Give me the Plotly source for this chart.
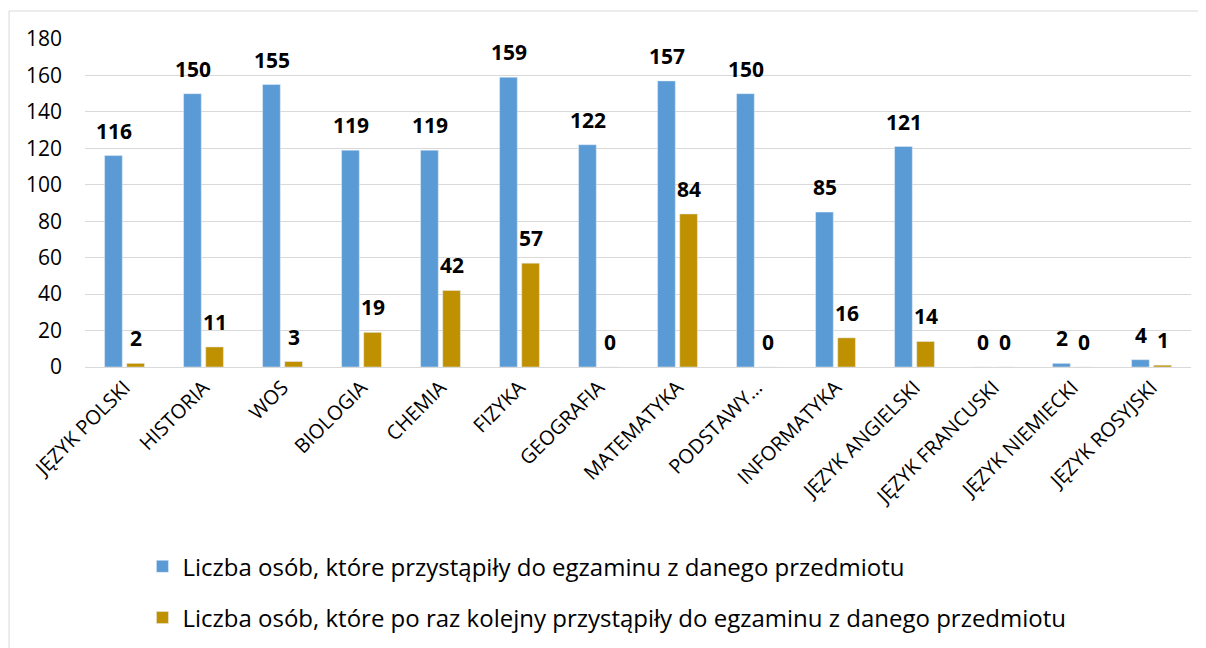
import plotly.graph_objects as go

categories = ["JĘZYK POLSKI", "HISTORIA", "WOS", "BIOLOGIA", "CHEMIA", "FIZYKA",
              "GEOGRAFIA", "MATEMATYKA", "PODSTAWY…", "INFORMATYKA",
              "JĘZYK ANGIELSKI", "JĘZYK FRANCUSKI", "JĘZYK NIEMIECKI", "JĘZYK ROSYJSKI"]
series1_name = "Liczba osób, które przystąpiły do egzaminu z danego przedmiotu"
series2_name = "Liczba osób, które po raz kolejny przystąpiły do egzaminu z danego przedmiotu"
series1 = [116, 150, 155, 119, 119, 159, 122, 157, 150, 85, 121, 0, 2, 4]
series2 = [2, 11, 3, 19, 42, 57, 0, 84, 0, 16, 14, 0, 0, 1]
y_ticks = [0, 20, 40, 60, 80, 100, 120, 140, 160, 180]

BLUE = "#5B9BD5"
GOLD = "#BF9000"
FONT = "Open Sans"

fig = go.Figure()
fig.add_trace(go.Bar(x=categories, y=series1, name=series1_name,
                     marker_color=BLUE, legendgroup="a"))
fig.add_trace(go.Bar(x=categories, y=series2, name=series2_name,
                     marker_color=GOLD, legendgroup="b"))

annotations = []
for cat, v in zip(categories, series1):
    annotations.append(dict(x=cat, y=v, xref="x", yref="y", text=str(v), showarrow=False,
                            xshift=-11, yshift=25, yanchor="middle",
                            font=dict(family=FONT, size=21, color="#000000", weight="bold")))
for cat, v in zip(categories, series2):
    annotations.append(dict(x=cat, y=v, xref="x", yref="y", text=str(v), showarrow=False,
                            xshift=11, yshift=25, yanchor="middle",
                            font=dict(family=FONT, size=21, color="#000000", weight="bold")))

# the page body has an 8px margin, so figure coordinates = page coordinates - 8
OFF = 8
W, H = 1206 - OFF, 648 - OFF
L = 84.5 - OFF
T = 39 - OFF
R = W - (1191.5 - OFF)
B = H - (367.5 - OFF)
pw, ph = W - L - R, H - T - B

def px_x(p):
    return (p - OFF - L) / pw

def px_y(p):
    return (H - B - (p - OFF)) / ph

fig.update_layout(
    width=W, height=H,
    margin=dict(l=L, r=R, t=T, b=B, pad=0, autoexpand=False),
    paper_bgcolor="white", plot_bgcolor="white",
    barmode="group", bargap=0.44, bargroupgap=0.2,
    font=dict(family=FONT, color="#000000"),
    annotations=annotations,
    showlegend=True,
    legend=dict(x=px_x(142), y=px_y(545), xanchor="left", yanchor="top",
                orientation="v", traceorder="grouped", tracegroupgap=17,
                font=dict(family=FONT, size=24, color="#000000"),
                bgcolor="rgba(0,0,0,0)"),
    shapes=[dict(type="rect", xref="paper", yref="paper",
                 x0=px_x(8.5), x1=px_x(1200), y0=px_y(700), y1=px_y(11),
                 line=dict(color="#D9D9D9", width=1), fillcolor="rgba(0,0,0,0)",
                 layer="below")],
)
fig.update_xaxes(tickangle=-45, tickfont=dict(family=FONT, size=20, color="#000000"),
                 showline=True, linecolor="#D9D9D9", linewidth=1, ticks="",
                 showgrid=False)
fig.update_yaxes(range=[0, 180], tickvals=y_ticks, ticks="",
                 tickfont=dict(family=FONT, size=21, color="#000000"),
                 showgrid=True, gridcolor="#D9D9D9", gridwidth=1,
                 zeroline=False, showline=False, ticklabelstandoff=22)

fig.write_html("out.html")
